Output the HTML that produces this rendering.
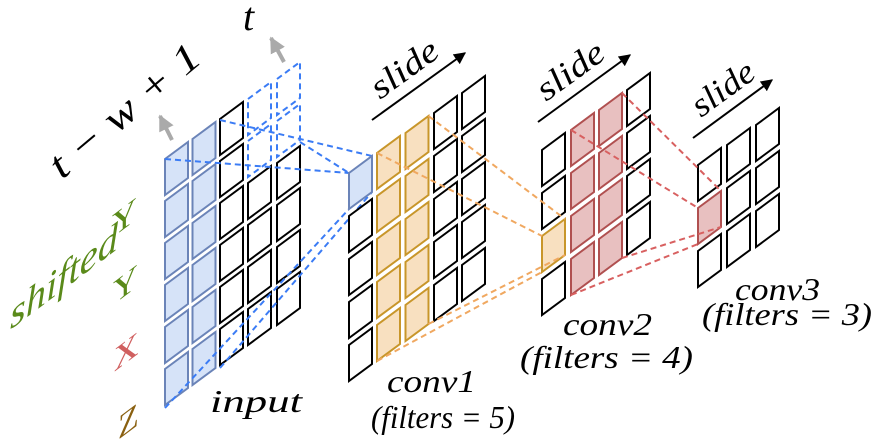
<!DOCTYPE html>
<html><head><meta charset="utf-8"><style>
html,body{margin:0;padding:0;background:#fff;}
svg{display:block;}
svg text{font-family:'Liberation Serif','DejaVu Serif',serif;font-style:italic;}
svg text.up{font-style:normal;}
</style></head><body>
<svg width="880" height="446" viewBox="0 0 880 446" xmlns="http://www.w3.org/2000/svg">
<defs>
<polygon id="c" points="0,0 23,-17 23,19 0,36"/>
<marker id="ah" viewBox="0 0 10 10" refX="9" refY="5" markerWidth="6" markerHeight="6" orient="auto"><path d="M0,0 L10,5 L0,10 z" fill="#000"/></marker>
<marker id="ag" viewBox="0 0 10 10" refX="9" refY="5" markerWidth="4" markerHeight="4" orient="auto"><path d="M0,0 L10,5 L0,10 z" fill="#aaa"/></marker>
</defs>

<g stroke-width="2" stroke-linejoin="miter">
<g fill="#d6e3f8" stroke="#6b84b8">
<use href="#c" x="165" y="159"/><use href="#c" x="165" y="201"/><use href="#c" x="165" y="243"/><use href="#c" x="165" y="285"/><use href="#c" x="165" y="327"/><use href="#c" x="165" y="369"/>
<use href="#c" x="192.5" y="139"/><use href="#c" x="192.5" y="181"/><use href="#c" x="192.5" y="223"/><use href="#c" x="192.5" y="265"/><use href="#c" x="192.5" y="307"/><use href="#c" x="192.5" y="349"/>
</g>
<g fill="#fff" stroke="#000">
<use href="#c" x="220" y="119"/><use href="#c" x="220" y="161"/><use href="#c" x="220" y="203"/><use href="#c" x="220" y="245"/><use href="#c" x="220" y="287"/><use href="#c" x="220" y="329"/>
<use href="#c" x="248" y="183"/><use href="#c" x="248" y="225"/><use href="#c" x="248" y="267"/><use href="#c" x="248" y="309"/>
<use href="#c" x="277" y="163"/><use href="#c" x="277" y="205"/><use href="#c" x="277" y="247"/><use href="#c" x="277" y="289"/>
</g>
<g fill="none" stroke="#3b7cf5" stroke-dasharray="6,4">
<use href="#c" x="248" y="99"/><use href="#c" x="248" y="141"/>
<use href="#c" x="277" y="79"/><use href="#c" x="277" y="121"/>
<line x1="165" y1="159" x2="349" y2="173"/>
<line x1="220" y1="120" x2="372" y2="156"/>
<line x1="300" y1="142" x2="349" y2="173"/>
<line x1="165" y1="408" x2="349" y2="209"/>
<line x1="220" y1="368" x2="372" y2="192"/>
</g>

<g fill="#fff" stroke="#000">
<use href="#c" x="349" y="216"/><use href="#c" x="349" y="259"/><use href="#c" x="349" y="302"/><use href="#c" x="349" y="345"/>
<use href="#c" x="434" y="113"/><use href="#c" x="434" y="156"/><use href="#c" x="434" y="199"/><use href="#c" x="434" y="242"/><use href="#c" x="434" y="285"/>
<use href="#c" x="462" y="93"/><use href="#c" x="462" y="136"/><use href="#c" x="462" y="179"/><use href="#c" x="462" y="222"/><use href="#c" x="462" y="265"/>
</g>
<use href="#c" x="349" y="173" fill="#d6e3f8" stroke="#6b84b8"/>
<g fill="#f8e0c0" stroke="#c8962a">
<use href="#c" x="377" y="153"/><use href="#c" x="377" y="196"/><use href="#c" x="377" y="239"/><use href="#c" x="377" y="282"/><use href="#c" x="377" y="325"/>
<use href="#c" x="405.5" y="133"/><use href="#c" x="405.5" y="176"/><use href="#c" x="405.5" y="219"/><use href="#c" x="405.5" y="262"/><use href="#c" x="405.5" y="305"/>
</g>

<g fill="#fff" stroke="#000">
<use href="#c" x="542" y="150"/><use href="#c" x="542" y="193"/><use href="#c" x="542" y="279"/>
<use href="#c" x="627" y="90"/><use href="#c" x="627" y="133"/><use href="#c" x="627" y="176"/><use href="#c" x="627" y="219"/>
</g>
<use href="#c" x="542" y="236" fill="#f8e0c0" stroke="#c8962a"/>
<g fill="#e8c0c0" stroke="#b05050">
<use href="#c" x="571" y="130"/><use href="#c" x="571" y="173"/><use href="#c" x="571" y="216"/><use href="#c" x="571" y="259"/>
<use href="#c" x="599" y="110"/><use href="#c" x="599" y="153"/><use href="#c" x="599" y="196"/><use href="#c" x="599" y="239"/>
</g>
<g fill="none" stroke="#f0a860" stroke-dasharray="6,4">
<line x1="377" y1="153" x2="542" y2="236"/>
<line x1="428.5" y1="116" x2="565" y2="219"/>
<line x1="377" y1="361" x2="542" y2="272"/>
<line x1="428.5" y1="324" x2="565" y2="255"/>
</g>

<g fill="#fff" stroke="#000">
<use href="#c" x="698" y="165"/><use href="#c" x="698" y="251"/>
<use href="#c" x="727" y="145"/><use href="#c" x="727" y="188"/><use href="#c" x="727" y="231"/>
<use href="#c" x="756" y="125"/><use href="#c" x="756" y="168"/><use href="#c" x="756" y="211"/>
</g>
<use href="#c" x="698" y="208" fill="#e8c0c0" stroke="#b05050"/>
<g fill="none" stroke="#d86060" stroke-dasharray="6,4">
<line x1="571" y1="130" x2="698" y2="208"/>
<line x1="622" y1="93" x2="721" y2="191"/>
<line x1="571" y1="295" x2="698" y2="244"/>
<line x1="622" y1="258" x2="721" y2="227"/>
</g>
</g>

<g stroke="#000" stroke-width="2" marker-end="url(#ah)">
<line x1="372" y1="120" x2="465" y2="53"/>
<line x1="538" y1="122" x2="630" y2="55"/>
<line x1="693" y1="138" x2="772" y2="80"/>
</g>
<text font-size="34" transform="translate(380,100) rotate(-36)" textLength="76" lengthAdjust="spacingAndGlyphs">slide</text>
<text font-size="34" transform="translate(546,102) rotate(-36)" textLength="76" lengthAdjust="spacingAndGlyphs">slide</text>
<text font-size="34" transform="translate(701,118) rotate(-36)" textLength="70" lengthAdjust="spacingAndGlyphs">slide</text>

<g stroke="#aaa" stroke-width="4" marker-end="url(#ag)">
<line x1="172" y1="140" x2="160" y2="116"/>
<line x1="284" y1="62" x2="271" y2="38"/>
</g>
<text font-size="40" transform="translate(62,180) rotate(-40)" textLength="185" lengthAdjust="spacingAndGlyphs">t − w + 1</text>
<text font-size="40" x="243" y="30">t</text>

<text font-size="40" fill="#5a8a1a" transform="translate(10,330) skewY(-37)" textLength="108" lengthAdjust="spacingAndGlyphs">shifted</text>
<g font-size="34">
<text class="up" fill="#5a8a1a" transform="translate(112,238) skewY(-37)">Y</text>
<text class="up" fill="#5a8a1a" transform="translate(113,305) skewY(-37)">Y</text>
<text class="up" fill="#d06060" transform="translate(114,372) skewY(-37)">X</text>
<text class="up" fill="#8a6010" transform="translate(118,440) skewY(-37)">Z</text>
</g>

<g font-size="32">
<text x="210" y="412" textLength="92" lengthAdjust="spacingAndGlyphs">input</text>
<text x="387" y="392" textLength="89" lengthAdjust="spacingAndGlyphs">conv1</text>
<text x="371" y="428" textLength="144" lengthAdjust="spacingAndGlyphs">(filters = 5)</text>
<text x="563" y="335" textLength="89" lengthAdjust="spacingAndGlyphs">conv2</text>
<text x="520" y="368" textLength="173" lengthAdjust="spacingAndGlyphs">(filters = 4)</text>
<text x="735" y="300" textLength="85" lengthAdjust="spacingAndGlyphs">conv3</text>
<text x="702" y="325" textLength="170" lengthAdjust="spacingAndGlyphs">(filters = 3)</text>
</g>
</svg>
</body></html>
